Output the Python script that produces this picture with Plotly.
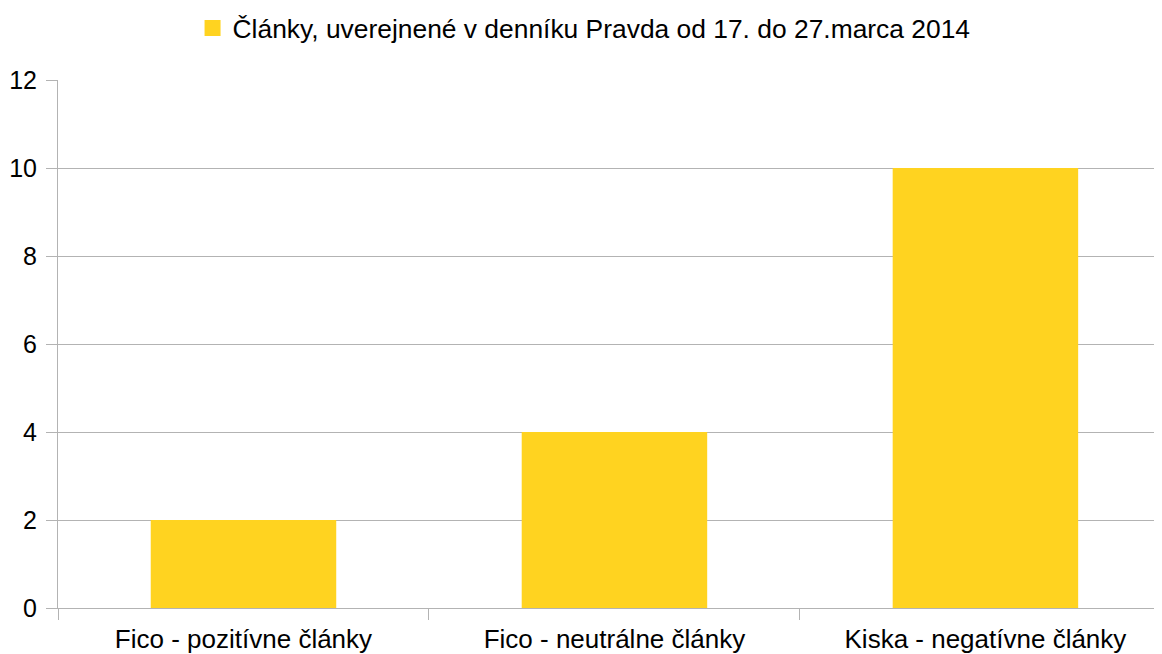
import plotly.graph_objects as go

categories = ["Fico - pozitívne články", "Fico - neutrálne články", "Kiska - negatívne články"]
values = [2, 4, 10]
series_name = "Články, uverejnené v denníku Pravda od 17. do 27.marca 2014"

BAR_COLOR = "#FFD320"
GRID = "#b3b3b3"
FONT = "Liberation Sans, Arial, sans-serif"

fig = go.Figure()
fig.add_trace(go.Bar(x=categories, y=values, marker_color=BAR_COLOR, marker_line_width=0,
                     showlegend=False, name=series_name))
# legend-only marker so the swatch is a bigger square like the original
fig.add_trace(go.Scatter(x=[None], y=[None], mode="markers", name=series_name,
                         marker=dict(symbol="square", size=16, color=BAR_COLOR)))

# the page body adds an 8px offset, so the figure is 8px smaller than the window
fig.update_layout(
    width=1154, height=646,
    margin=dict(l=50, r=0, t=72, b=46, autoexpand=False),
    paper_bgcolor="white", plot_bgcolor="white",
    font=dict(family=FONT, size=26, color="#000000"),
    bargap=0.5,
    showlegend=True,
    legend=dict(orientation="h", x=0.4765, xanchor="center", y=1.098, yanchor="middle",
                font=dict(size=26.4), itemwidth=30),
)
fig.update_xaxes(
    type="category", range=[-0.5, 2.476], tickson="boundaries",
    ticks="outside", ticklen=11, tickcolor=GRID, showgrid=False, automargin=False,
    showline=True, linecolor=GRID, linewidth=1, tickfont=dict(size=26),
    ticklabelstandoff=8,
)
fig.update_yaxes(
    range=[0, 12], dtick=2, ticks="outside", ticklen=11, tickcolor=GRID,
    showgrid=True, gridcolor=GRID, showline=True, linecolor=GRID, linewidth=1,
    zeroline=False, tickfont=dict(size=25), ticklabelstandoff=4, automargin=False,
)

fig.write_html("out.html")
